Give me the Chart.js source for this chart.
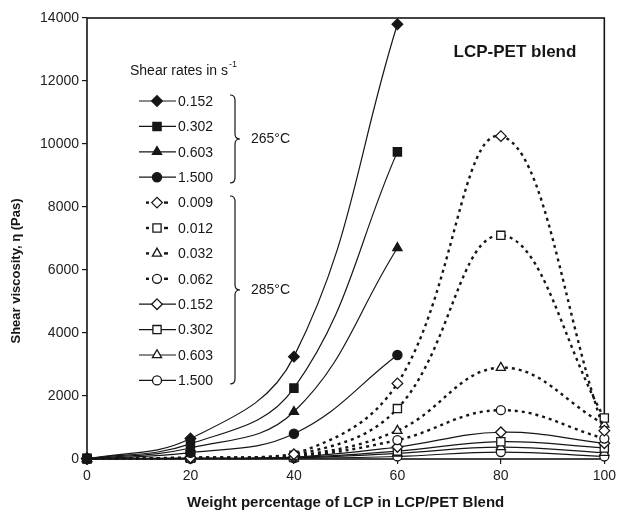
<!DOCTYPE html>
<html>
<head>
<meta charset="utf-8">
<script src="https://cdn.jsdelivr.net/npm/chart.js@4.4.0/dist/chart.umd.min.js"></script>
<style>
  html, body { margin: 0; padding: 0; background: #fff; }
  #wrap { width: 620px; height: 519px; }
</style>
</head>
<body>
<div id="wrap"><canvas id="chart" width="620" height="519"></canvas></div>
<script>
// Weight % of LCP in the blend
const lcpPercent = [0, 20, 40, 60, 80, 100];
const xTicks = [0, 20, 40, 60, 80, 100];
const yTicks = [0, 2000, 4000, 6000, 8000, 10000, 12000, 14000];

// Shear viscosity (Pas) at 265 °C, measured up to 60 % LCP
const eta265_0152 = [0, 650, 3250, 13800];
const eta265_0302 = [0, 480, 2250, 9750];
const eta265_0603 = [0, 350, 1500, 6700];
const eta265_1500 = [0, 200, 800, 3300];

// Shear viscosity (Pas) at 285 °C
const eta285_0009 = [20, 40, 150, 2400, 10250, 900];
const eta285_0012 = [20, 40, 120, 1600, 7100, 1300];
const eta285_0032 = [20, 35, 100, 900, 2900, 1100];
const eta285_0062 = [20, 30, 80, 600, 1550, 650];
const eta285_0152 = [15, 25, 60, 380, 850, 500];
const eta285_0302 = [15, 20, 45, 250, 550, 350];
const eta285_0603 = [10, 15, 35, 180, 380, 200];
const eta285_1500 = [10, 10, 25, 80, 220, 80];

const ink = "#161616";
const dots = [3, 4];
const family = "'Liberation Sans', Arial, sans-serif";

function pts(values) {
  return values.map((v, i) => ({ x: lcpPercent[i], y: v }));
}

function series(label, values, shape, filled, dashed, radius) {
  return {
    label: label,
    data: pts(values),
    borderColor: ink,
    borderWidth: dashed ? 2.4 : 1.2,
    borderDash: dashed ? dots : [],
    pointStyle: shape,
    pointRadius: radius,
    pointBorderWidth: 1.3,
    pointBorderColor: ink,
    pointBackgroundColor: filled ? ink : "#ffffff",
    tension: 0.4,
    fill: false,
    clip: false
  };
}

// filled markers first so the open 285 °C markers sit on top near zero
const datasets = [
  series("0.152", eta265_0152, "rectRot", true, false, 5.3),
  series("0.302", eta265_0302, "rect", true, false, 5.8),
  series("0.603", eta265_0603, "triangle", true, false, 5.3),
  series("1.500", eta265_1500, "circle", true, false, 4.6),
  series("0.009", eta285_0009, "rectRot", false, true, 5.3),
  series("0.012", eta285_0012, "rect", false, true, 5.8),
  series("0.032", eta285_0032, "triangle", false, true, 5.3),
  series("0.062", eta285_0062, "circle", false, true, 4.5),
  series("0.152", eta285_0152, "rectRot", false, false, 5.3),
  series("0.302", eta285_0302, "rect", false, false, 5.8),
  series("0.603", eta285_0603, "triangle", false, false, 5.3),
  series("1.500", eta285_1500, "circle", false, false, 4.5)
];

function marker(ctx, ds, x, y) {
  ctx.save();
  ctx.fillStyle = ds.pointBackgroundColor;
  ctx.strokeStyle = ds.pointBorderColor;
  ctx.lineWidth = ds.pointBorderWidth;
  ctx.setLineDash([]);
  Chart.helpers.drawPoint(ctx, {
    pointStyle: ds.pointStyle,
    rotation: 0,
    radius: ds.pointRadius,
    borderWidth: ds.pointBorderWidth
  }, x, y);
  ctx.restore();
}

function brace(ctx, x0, y1, y2) {
  const xm = x0 + 5, xt = x0 + 10, r = 5, mid = (y1 + y2) / 2;
  ctx.beginPath();
  ctx.moveTo(x0, y1);
  ctx.quadraticCurveTo(xm, y1, xm, y1 + r);
  ctx.lineTo(xm, mid - r);
  ctx.quadraticCurveTo(xm, mid, xt, mid);
  ctx.quadraticCurveTo(xm, mid, xm, mid + r);
  ctx.lineTo(xm, y2 - r);
  ctx.quadraticCurveTo(xm, y2, x0, y2);
  ctx.stroke();
}

const framePlugin = {
  id: "frame",
  beforeDatasetsDraw(chart) {
    const { ctx, chartArea: a } = chart;
    ctx.save();
    ctx.strokeStyle = ink;
    ctx.lineWidth = 1.6;
    ctx.strokeRect(a.left, a.top, a.right - a.left, a.bottom - a.top);
    ctx.restore();
  }
};

const legendPlugin = {
  id: "shearLegend",
  afterDraw(chart) {
    const ctx = chart.ctx;
    const font = "14px " + family;
    ctx.save();
    ctx.fillStyle = ink;
    ctx.strokeStyle = ink;
    ctx.textBaseline = "middle";

    // heading with superscript
    ctx.font = font;
    ctx.textAlign = "left";
    ctx.fillText("Shear rates in s", 130, 71);
    const w = ctx.measureText("Shear rates in s").width;
    ctx.font = "9px " + family;
    ctx.fillText("-1", 130 + w + 1, 65);

    // entries
    const rowY0 = 101, rowGap = 25.4;
    datasets.forEach((ds, i) => {
      const y = rowY0 + i * rowGap;
      ctx.lineWidth = ds.borderWidth;
      ctx.setLineDash([]);
      if (ds.borderDash.length) {
        ctx.fillRect(146, y - 1.2, 3, 2.4);
        ctx.fillRect(164, y - 1.2, 4, 2.4);
      } else {
        ctx.beginPath();
        ctx.moveTo(139, y);
        ctx.lineTo(176, y);
        ctx.stroke();
      }
      marker(ctx, ds, 157, y);
      ctx.font = font;
      ctx.fillStyle = ink;
      ctx.fillText(ds.label, 178, y + 1);
    });

    // temperature brackets
    ctx.lineWidth = 1.2;
    brace(ctx, 230, 95, 183);
    brace(ctx, 230, 196, 384);
    ctx.font = font;
    ctx.fillText("265°C", 251, 139);
    ctx.fillText("285°C", 251, 290);

    // plot label
    ctx.font = "bold 17px " + family;
    ctx.textAlign = "center";
    ctx.fillText("LCP-PET blend", 515, 52);

    // y axis title
    ctx.font = "bold 13px " + family;
    ctx.translate(16, 271);
    ctx.rotate(-Math.PI / 2);
    ctx.fillText("Shear viscosity, η (Pas)", 0, 0);
    ctx.restore();
  }
};

const tickFont = { family: family, size: 14 };

new Chart(document.getElementById("chart"), {
  type: "line",
  data: { datasets: datasets },
  options: {
    responsive: false,
    animation: false,
    devicePixelRatio: 1,
    layout: { padding: { left: 0, top: 18, right: 14, bottom: 0 } },
    plugins: {
      legend: { display: false },
      tooltip: { enabled: false }
    },
    scales: {
      x: {
        type: "linear",
        min: xTicks[0],
        max: xTicks[xTicks.length - 1],
        afterBuildTicks: s => { s.ticks = xTicks.map(v => ({ value: v })); },
        afterFit: s => { s.height = 60; },
        grid: { drawOnChartArea: false, tickLength: 5, color: ink, lineWidth: 1.2 },
        border: { display: false },
        ticks: { font: tickFont, color: "#222", padding: 4, maxRotation: 0, callback: v => String(v) },
        title: {
          display: true,
          text: "Weight percentage of LCP in LCP/PET Blend",
          font: { family: family, size: 15, weight: "bold" },
          color: ink,
          padding: { top: 6, bottom: 7 }
        }
      },
      y: {
        min: yTicks[0],
        max: yTicks[yTicks.length - 1],
        afterBuildTicks: s => { s.ticks = yTicks.map(v => ({ value: v })); },
        afterFit: s => { s.width = 87; },
        grid: { drawOnChartArea: false, tickLength: 5, color: ink, lineWidth: 1.2 },
        border: { display: false },
        ticks: { font: tickFont, color: "#222", padding: 3, callback: v => String(v) }
      }
    }
  },
  plugins: [framePlugin, legendPlugin]
});
</script>
</body>
</html>
